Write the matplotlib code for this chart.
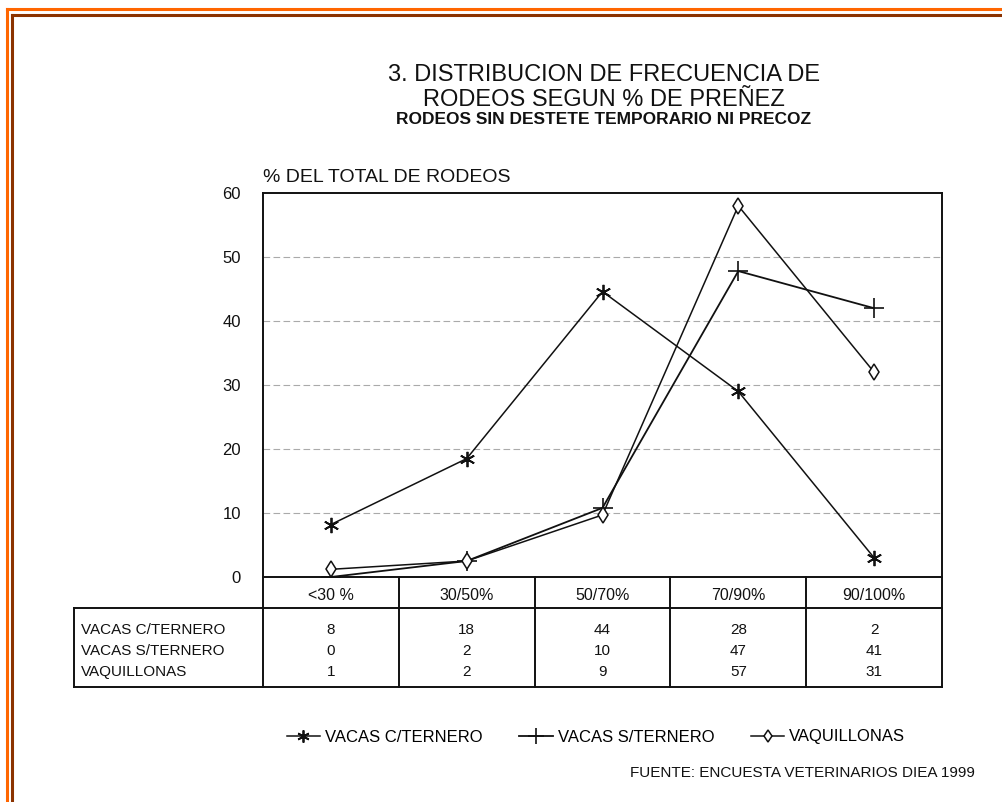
import matplotlib
matplotlib.use('Agg')
import matplotlib.pyplot as plt
from matplotlib.lines import Line2D

plt.rcParams['font.family'] = ['Liberation Sans', 'DejaVu Sans']

# ---- data ----
categories = ['<30 %', '30/50%', '50/70%', '70/90%', '90/100%']
series_names = ['VACAS C/TERNERO', 'VACAS S/TERNERO', 'VAQUILLONAS']
# values as plotted
c_ternero = [8.2, 18.5, 44.6, 29.0, 3.0]
s_ternero = [0.0, 2.5, 10.8, 47.8, 42.0]
vaquillonas = [1.2, 2.5, 9.7, 58.0, 32.0]
# values as printed in the table
table_c = ['8', '18', '44', '28', '2']
table_s = ['0', '2', '10', '47', '41']
table_v = ['1', '2', '9', '57', '31']
yticks = [0, 10, 20, 30, 40, 50, 60]

W, H = 1003, 802
fig = plt.figure(figsize=(W / 100, H / 100), dpi=100)

def fx(px):
    return px / W

def fy(py):
    return 1 - py / H

# page border (orange + brown)
fig.add_artist(Line2D([fx(7), fx(7)], [fy(9), 0], color='#ff6600', lw=2.2))
fig.add_artist(Line2D([fx(7), 1], [fy(9), fy(9)], color='#ff6600', lw=2.2))
fig.add_artist(Line2D([fx(12), fx(12)], [fy(15), 0], color='#8b3300', lw=2.2))
fig.add_artist(Line2D([fx(12), 1], [fy(15), fy(15)], color='#8b3300', lw=2.2))

# titles
fig.text(fx(604), fy(75), '3. DISTRIBUCION DE FRECUENCIA DE', ha='center', va='center',
         fontsize=17, color='#111111')
fig.text(fx(604), fy(100), 'RODEOS SEGUN % DE PREÑEZ', ha='center', va='center',
         fontsize=17, color='#111111')
fig.text(fx(604), fy(120), 'RODEOS SIN DESTETE TEMPORARIO NI PRECOZ', ha='center', va='center',
         fontsize=12.5, fontweight='bold', color='#111111')

# main plot
left, right, top, bottom = 263, 942, 193, 577
ax = fig.add_axes([fx(left), fy(bottom), fx(right - left), (bottom - top) / H])
x = list(range(len(categories)))
ax.plot(x, c_ternero, color='#111111', lw=1.1, marker=(6, 2, 0), ms=11, mew=1.3,
        label=series_names[0])
ax.plot(x, s_ternero, color='#111111', lw=1.3, marker='+', ms=14, mew=1.2,
        label=series_names[1])
ax.plot(x, vaquillonas, color='#111111', lw=1.1, marker='d', ms=8, mew=1.1,
        mfc='white', label=series_names[2])
ax.set_xlim(-0.5, len(categories) - 0.5)
ax.set_ylim(0, 60)
ax.set_yticks(yticks)
ax.set_xticks([])
for t in yticks[1:-1]:
    ax.axhline(t, color='#aaaaaa', lw=0.8, ls=(0, (6, 3)), zorder=0)
ax.tick_params(axis='y', length=0, pad=16, labelsize=12, labelcolor='#111111')
for s in ax.spines.values():
    s.set_linewidth(1.4)
    s.set_color('#111111')
fig.text(fx(263), fy(177), '% DEL TOTAL DE RODEOS', ha='left', va='center',
         fontsize=14, color='#111111')

# table below the plot, same x scale as the main axes
tb_top, tb_bot = bottom, 687
tax = fig.add_axes([fx(left), fy(tb_bot), fx(right - left), (tb_bot - tb_top) / H])
tax.set_xlim(-0.5, len(categories) - 0.5)
tax.set_ylim(tb_bot - tb_top, 0)
tax.axis('off')
col_w = (right - left) / len(categories)
xl = -0.5 - (left - 74) / col_w
kw = dict(color='#111111', lw=1.4, clip_on=False)
for i in range(len(categories) + 1):
    tax.plot([i - 0.5, i - 0.5], [0, tb_bot - tb_top], **kw)
tax.plot([xl, xl], [31, tb_bot - tb_top], **kw)
tax.plot([xl, len(categories) - 0.5], [31, 31], **kw)
tax.plot([xl, len(categories) - 0.5], [tb_bot - tb_top, tb_bot - tb_top], **kw)
for i, c in enumerate(categories):
    tax.text(i, 19, c, ha='center', va='center', fontsize=11.5, color='#111111')
rows = [table_c, table_s, table_v]
row_y = [53, 74, 95]
for name, vals, yy in zip(series_names, rows, row_y):
    tax.text(xl + 0.05, yy, name, ha='left', va='center', fontsize=11,
             color='#111111', clip_on=False)
    for i, v in enumerate(vals):
        tax.text(i, yy, v, ha='center', va='center', fontsize=11, color='#111111')

# legend
handles, labels = ax.get_legend_handles_labels()
fig.legend(handles, labels, loc='center', bbox_to_anchor=(fx(596), fy(737)), ncol=3,
           frameon=False, fontsize=12, handlelength=2.0, handletextpad=0.3,
           columnspacing=2.2, markerscale=0.8)

fig.text(fx(975), fy(773), 'FUENTE: ENCUESTA VETERINARIOS DIEA 1999', ha='right', va='center',
         fontsize=11, color='#111111')

fig.savefig('out.png', dpi=100, facecolor='white')
